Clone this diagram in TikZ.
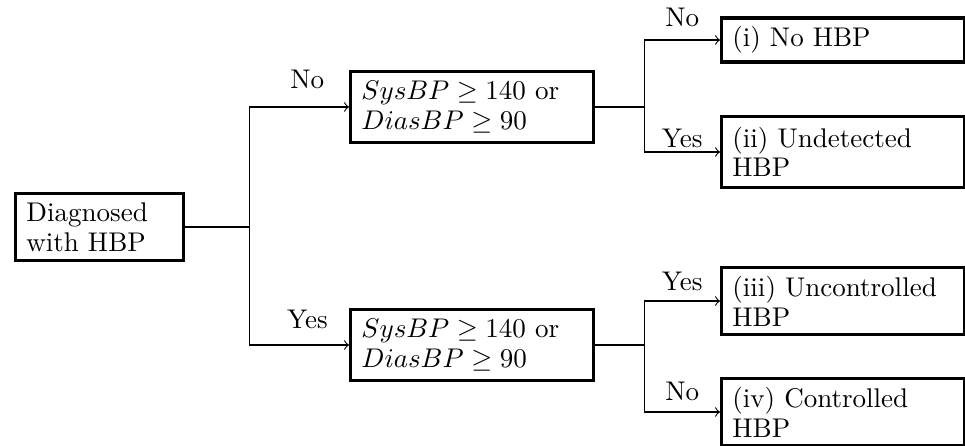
\documentclass[tikz,border=0pt]{standalone}
\usepackage{amsmath}
\usetikzlibrary{arrows}

\tikzset{
  box/.style={draw, very thick, anchor=west, align=left, inner xsep=4pt, inner ysep=2pt,
    text width=82pt, font=\fontsize{10}{11}\selectfont},
  lbl/.style={font=\fontsize{10}{11}\selectfont}
}

\begin{document}
\begin{tikzpicture}[x=0.37pt, y=-0.37pt, auto]
			\useasboundingbox (0,0) rectangle (965,446);
			\node (diag) [box, text width=54pt, minimum height=25pt] at (14,227) {Diagnosed\\with HBP};
			\node (test1) [box, minimum height=26.3pt] at (349,107) {$SysBP \geq 140$ or\\$DiasBP \geq 90$};
			\node (test2) [box, minimum height=26.3pt] at (349,345) {$SysBP \geq 140$ or\\$DiasBP \geq 90$};
			\node (res1) [box, minimum height=16.3pt] at (720,40) {(i) No HBP};
			\node (res2) [box, minimum height=26pt] at (720,152) {(ii) Undetected\\HBP};
			\node (res3) [box, minimum height=25pt] at (720,301) {(iii) Uncontrolled\\HBP};
			\node (res4) [box, minimum height=25pt] at (720,412) {(iv) Controlled\\HBP};

			\draw (diag.east) -- ++(65,0) coordinate (j0);
			\draw (test1.east) -- ++(49,0) coordinate (j1);
			\draw (test2.east) -- ++(49,0) coordinate (j2);

			\draw[->] (j0) |- node[lbl, pos=0.79, above=3.3pt] {No} (test1.west);
			\draw[->] (j0) |- node[lbl, pos=0.79, above=2.5pt] {Yes} (test2.west);
			\draw[->] (j1) |- node[lbl, pos=0.75, above=1.4pt] {No} (res1.west);
			\draw[->] (j1) |- node[lbl, pos=0.75, above=-2pt] {Yes} (res2.west);
			\draw[->] (j2) |- node[lbl, pos=0.75, above=0.3pt] {Yes} (res3.west);
			\draw[->] (j2) |- node[lbl, pos=0.75, above=0.6pt] {No} (res4.west);
		\end{tikzpicture}
\end{document}
